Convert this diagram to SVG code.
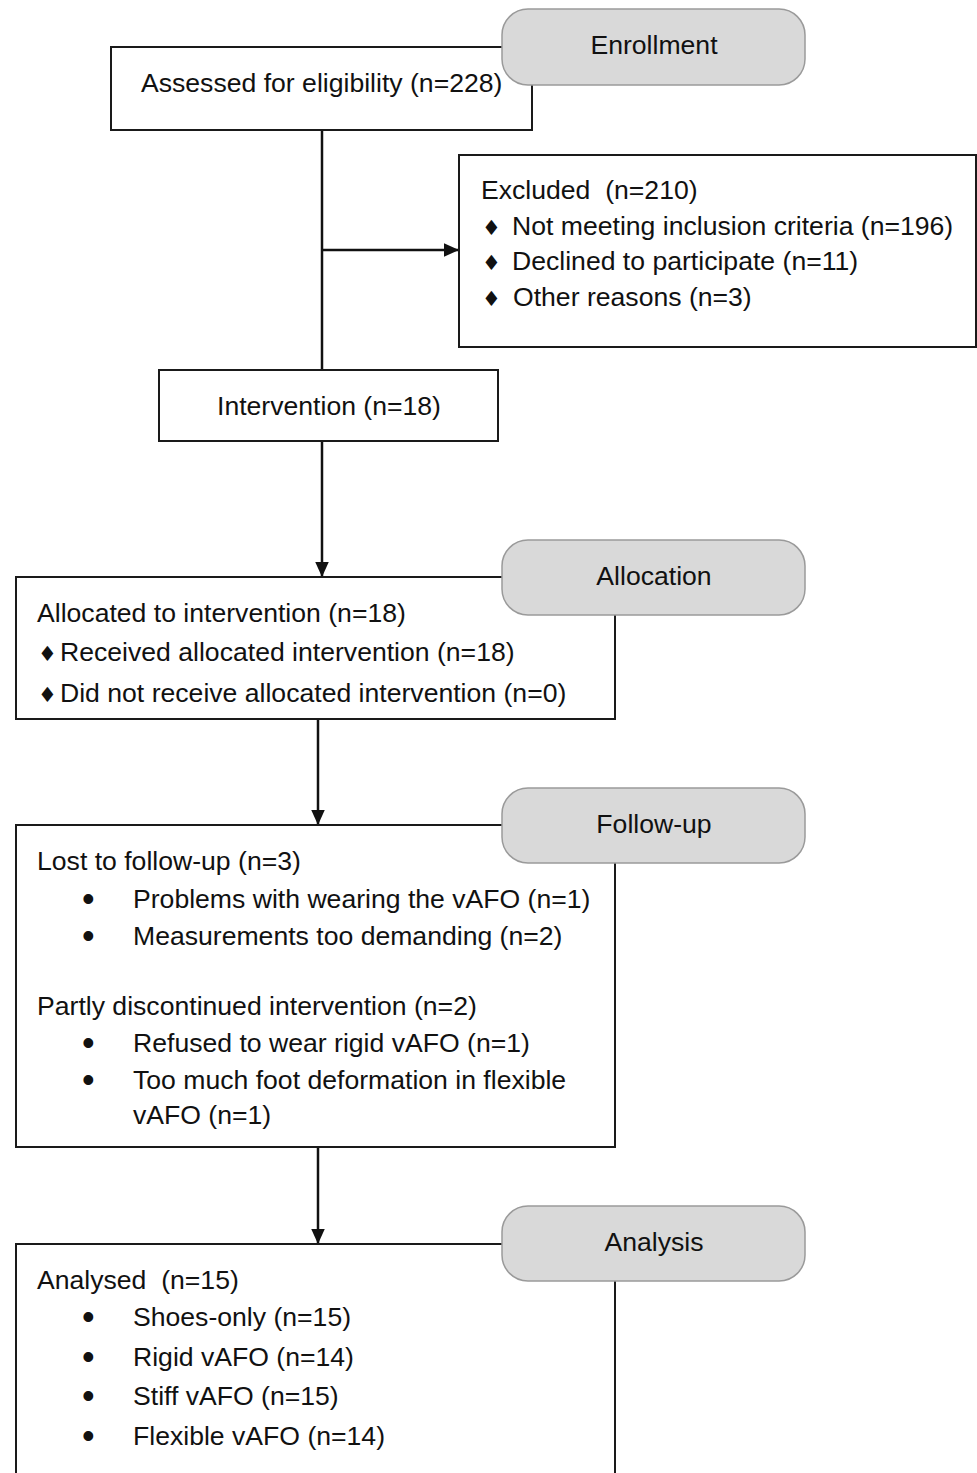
<svg xmlns="http://www.w3.org/2000/svg" width="977" height="1473" viewBox="0 0 977 1473">
<style>
.box{fill:#fff;stroke:#1a1a1a;stroke-width:2}
.pill{fill:#d9d9d9;stroke:#9a9a9a;stroke-width:1.5}
.t{font-family:"Liberation Sans",Arial,sans-serif;font-size:26.6px;fill:#111;white-space:pre}
.c{text-anchor:middle}
.d{font-family:"DejaVu Sans",sans-serif;font-size:21px}
.b{font-family:"Liberation Sans",Arial,sans-serif;font-size:36px;fill:#111}
.line{stroke:#111;stroke-width:2.5;fill:none}
</style>
<defs>
<marker id="arr" viewBox="0 0 10 10" refX="10" refY="5" markerWidth="6" markerHeight="6" markerUnits="strokeWidth" orient="auto">
<path d="M0,0.5 L10,5 L0,9.5 z" fill="#111"/>
</marker>
</defs>
<rect width="977" height="1473" fill="#fff"/>
<g id="connectors">
<line class="line" x1="322" y1="130" x2="322" y2="370"/>
<line class="line" x1="322" y1="250" x2="459" y2="250" marker-end="url(#arr)"/>
<line class="line" x1="322" y1="441" x2="322" y2="577" marker-end="url(#arr)"/>
<line class="line" x1="318" y1="719" x2="318" y2="825" marker-end="url(#arr)"/>
<line class="line" x1="318" y1="1147" x2="318" y2="1244" marker-end="url(#arr)"/>
</g>
<g id="assessed">
<rect class="box" x="111" y="47" width="421" height="83"/>
<text class="t" x="141" y="92">Assessed for eligibility (n=228)</text>
</g>
<g id="enrollment">
<rect class="pill" x="502" y="9" width="303" height="76" rx="26"/>
<text class="t c" x="654" y="54">Enrollment</text>
</g>
<g id="excluded">
<rect class="box" x="459" y="155" width="517" height="192"/>
<text class="t" x="481" y="199" xml:space="preserve">Excluded  (n=210)</text>
<text class="t"><tspan class="d" x="482" y="235">♦</tspan><tspan x="512" y="235">Not meeting inclusion criteria (n=196)</tspan></text>
<text class="t"><tspan class="d" x="482" y="270">♦</tspan><tspan x="512" y="270">Declined to participate (n=11)</tspan></text>
<text class="t"><tspan class="d" x="482" y="306">♦</tspan><tspan x="513" y="306">Other reasons (n=3)</tspan></text>
</g>
<g id="intervention">
<rect class="box" x="159" y="370" width="339" height="71"/>
<text class="t c" x="329" y="415">Intervention (n=18)</text>
</g>
<g id="allocated">
<rect class="box" x="16" y="577" width="599" height="142"/>
<text class="t" x="37" y="622">Allocated to intervention (n=18)</text>
<text class="t"><tspan class="d" x="38" y="661">♦</tspan><tspan x="60" y="661">Received allocated intervention (n=18)</tspan></text>
<text class="t"><tspan class="d" x="38" y="702">♦</tspan><tspan x="60" y="702">Did not receive allocated intervention (n=0)</tspan></text>
</g>
<g id="allocation">
<rect class="pill" x="502" y="540" width="303" height="75" rx="26"/>
<text class="t c" x="654" y="585">Allocation</text>
</g>
<g id="followupbox">
<rect class="box" x="16" y="825" width="599" height="322"/>
<text class="t" x="37" y="870">Lost to follow-up (n=3)</text>
<text class="b" x="82" y="911">•</text><text class="t" x="133" y="908">Problems with wearing the vAFO (n=1)</text>
<text class="b" x="82" y="948">•</text><text class="t" x="133" y="945">Measurements too demanding (n=2)</text>
<text class="t" x="37" y="1015">Partly discontinued intervention (n=2)</text>
<text class="b" x="82" y="1055">•</text><text class="t" x="133" y="1052">Refused to wear rigid vAFO (n=1)</text>
<text class="b" x="82" y="1092">•</text><text class="t" x="133" y="1089">Too much foot deformation in flexible</text>
<text class="t" x="133" y="1124">vAFO (n=1)</text>
</g>
<g id="followup">
<rect class="pill" x="502" y="788" width="303" height="75" rx="26"/>
<text class="t c" x="654" y="833">Follow-up</text>
</g>
<g id="analysed">
<rect class="box" x="16" y="1244" width="599" height="260"/>
<text class="t" x="37" y="1289" xml:space="preserve">Analysed  (n=15)</text>
<text class="b" x="82" y="1329">•</text><text class="t" x="133" y="1326">Shoes-only (n=15)</text>
<text class="b" x="82" y="1369">•</text><text class="t" x="133" y="1366">Rigid vAFO (n=14)</text>
<text class="b" x="82" y="1408">•</text><text class="t" x="133" y="1405">Stiff vAFO (n=15)</text>
<text class="b" x="82" y="1448">•</text><text class="t" x="133" y="1445">Flexible vAFO (n=14)</text>
</g>
<g id="analysis">
<rect class="pill" x="502" y="1206" width="303" height="75" rx="26"/>
<text class="t c" x="654" y="1251">Analysis</text>
</g>
</svg>
